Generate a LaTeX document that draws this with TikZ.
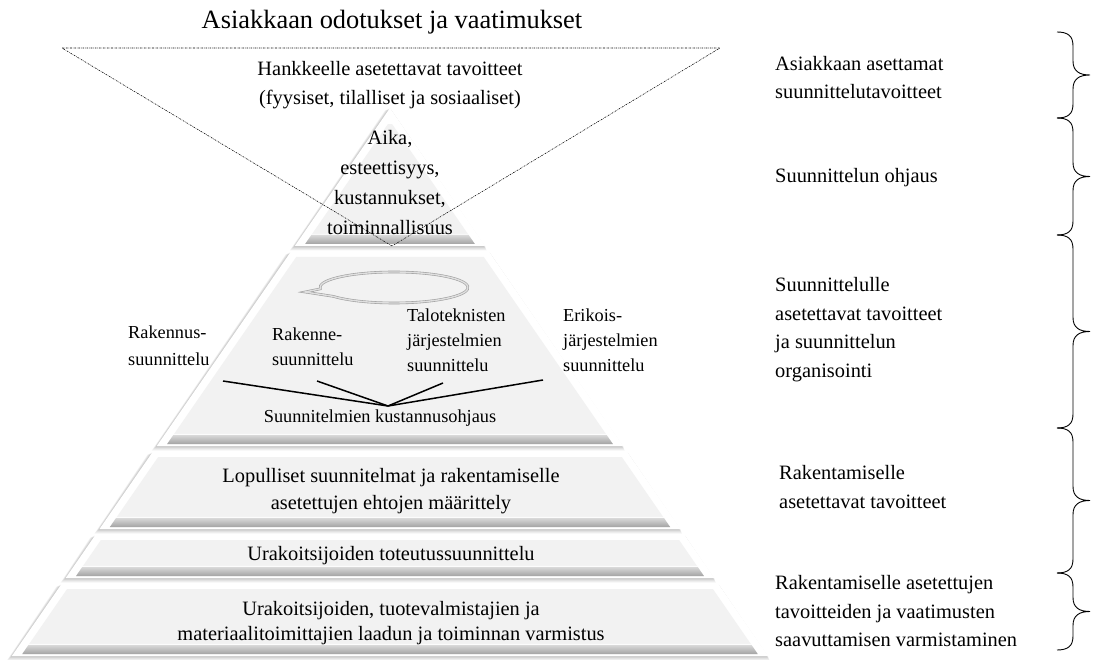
\documentclass[tikz,border=0pt]{standalone}
\usepackage{fontspec}
\setmainfont{Liberation Serif}
\usetikzlibrary{calc}

% one beveled slice of the pyramid: #1 = top y, #2 = bottom y
\newcommand\pyrlayer[2]{%
  \pgfmathsetmacro\ta{0.69*(#1-108)}%
  \pgfmathsetmacro\tb{0.69*(#2-108)}%
  \foreach \k in {1,...,5}{%
    \fill[black,opacity=0.045] ({390-\ta-\k*1.0},{#1+\k*0.5}) -- ({390+\ta+\k*0.3},{#1+\k*0.5})
      -- ({390+\tb+\k*0.3},{#2+\k*0.9}) -- ({390-\tb-\k*1.0},{#2+\k*0.9}) -- cycle;}
  \fill[white] (390-\ta,#1) -- (390+\ta,#1) -- (390+\tb,#2) -- (390-\tb,#2) -- cycle;
  \pgfmathsetmacro\fy{max(#1+5,108+9/0.69+3)}%
  \pgfmathsetmacro\fa{max(0.69*(\fy-108)-9,0)}%
  \pgfmathsetmacro\gy{#2-2}%
  \pgfmathsetmacro\ga{0.69*(\gy-108)-9}%
  \fill[face] (390-\fa,\fy) -- (390+\fa,\fy) -- (390+\ga,\gy) -- (390-\ga,\gy) -- cycle;
  \pgfmathsetmacro\hy{#2-11}%
  \pgfmathsetmacro\ha{0.69*(\hy-108)-9}%
  \fill[white,opacity=0.8] (390-\ha-0.7,\hy-1.2) -- (390+\ha+0.7,\hy-1.2) -- (390+\ha,\hy) -- (390-\ha,\hy) -- cycle;
  \shade[top color=gray!30,bottom color=gray!72] (390-\ha,\hy) -- (390+\ha,\hy) -- (390+\ga,\gy) -- (390-\ga,\gy) -- cycle;
}

% right-hand curly brace between #1 and #2 (y values)
\newcommand\phasebrace[2]{%
  \pgfmathsetmacro\ym{(#1+#2)/2}%
  \draw[bracepath] (1057,#1) .. controls (1068,#1) and (1073,#1+4) .. (1073,#1+14)
    -- (1073,\ym-14) .. controls (1073,\ym-4) and (1079,\ym) .. (1090,\ym)
    .. controls (1079,\ym) and (1073,\ym+4) .. (1073,\ym+14)
    -- (1073,#2-14) .. controls (1073,#2-4) and (1068,#2) .. (1057,#2);
}

\begin{document}
\begin{tikzpicture}[x=1pt,y=-1pt,
  face/.style={fill=gray!10},
  lbl/.style={font=\fontsize{20.4}{28.5}\selectfont, align=left, anchor=west, inner sep=0pt},
  pyrtxt/.style={font=\fontsize{20.4}{29}\selectfont, align=center, inner sep=0pt},
  smalltxt/.style={font=\fontsize{18.3}{26}\selectfont, align=left, anchor=west, inner sep=0pt},
  hubline/.style={line width=1.5pt},
  dotline/.style={line width=0.55pt, dash pattern=on 1.6pt off 1pt on 0.5pt off 1pt},
  bracepath/.style={line width=0.9pt},
  bubble/.style={draw=gray!75, line width=0.6pt, double=gray!25, double distance=1.4pt}
]
\useasboundingbox (0,0) rectangle (1093,660);
\fill[white] (0,0) rectangle (1093,660);

% pyramid slices, top to bottom
\pyrlayer{108}{246}
\pyrlayer{252}{446}
\pyrlayer{452}{529}
\pyrlayer{535}{578}
\pyrlayer{584}{656}

% speech bubble in the planning slice
\draw[bubble] ({394+74*cos(175)},{287.5+15.5*sin(175)})
  arc[start angle=175, end angle=505, x radius=74, y radius=15.5]
  -- (305,292) -- cycle;

% headings and slice texts
\node[font=\fontsize{26.4}{30}\selectfont, inner sep=0pt] (title) at (392,22) {Asiakkaan odotukset ja vaatimukset};
\node[pyrtxt] (project) at (390,85.5) {Hankkeelle asetettavat tavoitteet\\(fyysiset, tilalliset ja sosiaaliset)};
\node[pyrtxt, font=\fontsize{20.4}{30}\selectfont] (criteria) at (390,183) {Aika,\\esteettisyys,\\kustannukset,\\toiminnallisuus};
\node[smalltxt, anchor=center] (cost) at (380,418) {Suunnitelmien kustannusohjaus};
\node[pyrtxt, font=\fontsize{20.4}{27}\selectfont] (final) at (391,491) {Lopulliset suunnitelmat ja rakentamiselle\\asetettujen ehtojen määrittely};
\node[pyrtxt] (contractor) at (391,556) {Urakoitsijoiden toteutussuunnittelu};
\node[pyrtxt, font=\fontsize{20.4}{25}\selectfont] (quality) at (391,623) {Urakoitsijoiden, tuotevalmistajien ja\\materiaalitoimittajien laadun ja toiminnan varmistus};

% design disciplines
\node[smalltxt, font=\fontsize{18.3}{27}\selectfont] (arch) at (128,346) {Rakennus-\\suunnittelu};
\node[smalltxt, font=\fontsize{18.3}{25}\selectfont] (struct) at (272,347) {Rakenne-\\suunnittelu};
\node[smalltxt, font=\fontsize{18.3}{25}\selectfont] (hvac) at (407,340) {Taloteknisten\\järjestelmien\\suunnittelu};
\node[smalltxt, font=\fontsize{18.3}{25}\selectfont] (special) at (563,340) {Erikois-\\järjestelmien\\suunnittelu};

\coordinate (hub) at (388,406);
\coordinate (archend) at (223,381);
\coordinate (structend) at (317,381);
\coordinate (hvacend) at (443,383);
\coordinate (specialend) at (543,380);
\draw[hubline] (archend) -- (hub);
\draw[hubline] (structend) -- (hub);
\draw[hubline] (hvacend) -- (hub);
\draw[hubline] (specialend) -- (hub);

% customer expectation funnel
\coordinate (funL) at (62,48);
\coordinate (funR) at (720,48);
\coordinate (funB) at (392,246);
\draw[dotline] (funL) -- (funR) -- (funB) -- cycle;

% phase labels
\node[lbl] (p1) at (775,77.5) {Asiakkaan asettamat\\suunnittelutavoitteet};
\node[lbl] (p2) at (775,178) {Suunnittelun ohjaus};
\node[lbl] (p3) at (775,329.5) {Suunnittelulle\\asetettavat tavoitteet\\ja suunnittelun\\organisointi};
\node[lbl] (p4) at (779,487) {Rakentamiselle\\asetettavat tavoitteet};
\node[lbl] (p5) at (775,611.5) {Rakentamiselle asetettujen\\tavoitteiden ja vaatimusten\\saavuttamisen varmistaminen};

% braces
\phasebrace{32}{118}
\phasebrace{118}{235}
\phasebrace{235}{428}
\phasebrace{428}{573}
\phasebrace{573}{650}
\end{tikzpicture}
\end{document}
